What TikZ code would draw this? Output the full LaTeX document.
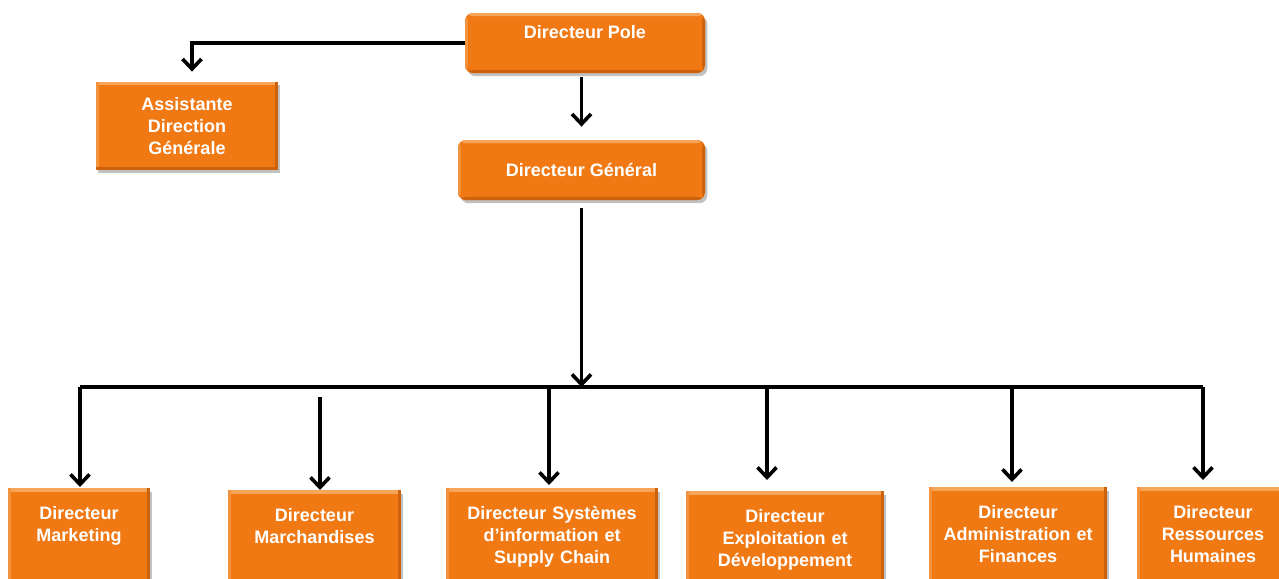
\documentclass[tikz,border=0pt]{standalone}
\usepackage{fontspec}
\setmainfont{Liberation Sans}
\usetikzlibrary{arrows.meta,shadows,calc}

\definecolor{boxorange}{RGB}{240,121,20}
\definecolor{bevellight}{RGB}{247,165,88}
\definecolor{beveldark}{RGB}{205,98,12}

\tikzset{
  orgbox/.style={
    fill=boxorange, text=white, align=center, inner sep=0pt,
    font=\bfseries\fontsize{9}{11}\selectfont,
    drop shadow={shadow xshift=1.2pt, shadow yshift=-1.6pt, opacity=0.35, fill=black!70},
    path picture={
      \fill[bevellight] (path picture bounding box.north west) rectangle ([yshift=-1.6pt]path picture bounding box.north east);
      \fill[bevellight!60!boxorange] (path picture bounding box.north west) rectangle ([xshift=1.4pt]path picture bounding box.south west);
      \fill[beveldark] ([xshift=-1.4pt]path picture bounding box.north east) rectangle (path picture bounding box.south east);
      \fill[beveldark] (path picture bounding box.south west) rectangle ([yshift=1.6pt]path picture bounding box.south east);
    }},
  topbox/.style={orgbox, rounded corners=4pt},
  lowbox/.style={orgbox, anchor=north, text width=#1, text height=15.5pt, text depth=34.5pt},
  conn/.style={line width=1.8pt, draw=black, -{Straight Barb[length=5pt,width=9.5pt]}},
  bus/.style={line width=1.8pt, draw=black}
}

\begin{document}
\begin{tikzpicture}[x=0.5pt, y=-0.5pt]
  \useasboundingbox (0,0) rectangle (1279,578);
  \clip (0,0) rectangle (1279,578);

  % upper levels
  \node[topbox, minimum width=120pt, text height=13pt, text depth=17pt] (pole) at (585,43) {Directeur Pole};
  \node[topbox, minimum width=123.5pt, minimum height=30pt] (dg) at (581.5,170) {Directeur Général};
  \node[orgbox, minimum width=91pt, minimum height=44pt] (asst) at (187,126) {Assistante\\Direction\\Générale};

  % directors
  \node[lowbox=71pt] (mkt) at (79,488) {Directeur\\Marketing};
  \node[lowbox=86.5pt] (mch) at (314.5,490) {Directeur\\Marchandises};
  \node[lowbox=106pt] (sys) at (552,488) {Directeur Systèmes\\d’information et\\Supply Chain};
  \node[lowbox=99pt] (exp) at (785,491) {Directeur\\Exploitation et\\Développement};
  \node[lowbox=89pt] (adm) at (1018,487) {Directeur\\Administration et\\Finances};
  \node[lowbox=76pt] (rh) at (1213,487) {Directeur\\Ressources\\Humaines};

  % distribution bus
  \coordinate (busL) at (80,387);
  \coordinate (busR) at (1203,387);
  \coordinate (dMch) at (320,397);
  \coordinate (dSys) at (549,387);
  \coordinate (dExp) at (767,387);
  \coordinate (dAdm) at (1012,387);

  % connectors
  \draw[conn, shorten >=5pt] (pole.west) -| ([xshift=2.5pt]asst.north);
  \draw[conn, shorten <=2pt, shorten >=6.5pt] (dg.north |- pole.south) -- (dg.north);
  \draw[conn, shorten <=4pt] (dg.south) -- (dg.south |- busL);
  \draw[bus] (busL) -- (busR);
  \draw[conn, shorten >=0.5pt] (busL) -- (busL |- mkt.north);
  \draw[conn] (dMch) -- (dMch |- mch.north);
  \draw[conn, shorten >=1.5pt] (dSys) -- (dSys |- sys.north);
  \draw[conn, shorten >=5.5pt] (dExp) -- (dExp |- exp.north);
  \draw[conn, shorten >=2.5pt] (dAdm) -- (dAdm |- adm.north);
  \draw[conn, shorten >=3.5pt] (busR) -- (busR |- rh.north);
\end{tikzpicture}
\end{document}
